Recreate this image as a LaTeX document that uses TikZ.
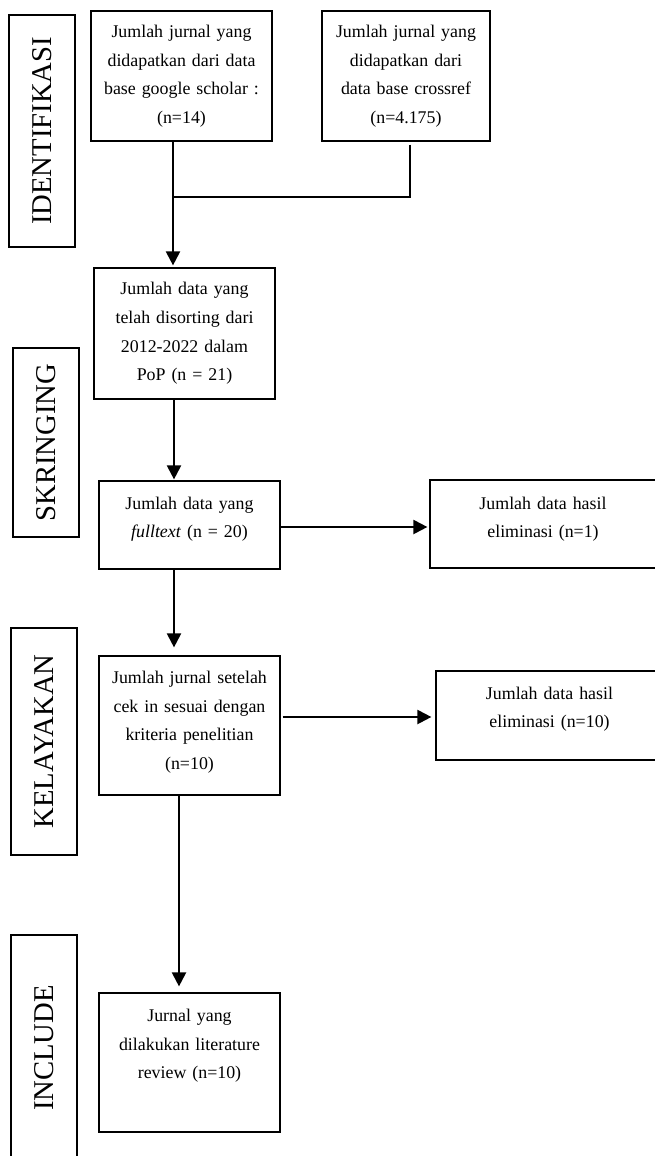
\documentclass[tikz,border=0pt]{standalone}
\usepackage{fontspec}
\setmainfont{Liberation Serif}
\newfontfamily\boxfont{Liberation Serif}
\newfontfamily\labfont{Liberation Serif}
\usetikzlibrary{arrows.meta,calc}
\tikzset{
  box/.style={draw, line width=0.9pt, rectangle, inner sep=0pt, minimum width=135.75pt,
    align=center, text width=118pt, font=\boxfont\fontsize{13.4}{21.4}\selectfont},
  txt/.style={inner sep=0pt, align=center, text width=118pt,
    font=\boxfont\fontsize{13.4}{21.4}\selectfont},
  labbox/.style={draw, line width=0.9pt, rectangle, rotate=90, inner sep=0pt,
    minimum height=49.5pt, font=\labfont\fontsize{21.5}{24}\selectfont},
  ln/.style={line width=1.6pt},
  arr/.style={line width=1.6pt, -{Triangle[length=10.5pt,width=10.5pt]}}
}
\begin{document}
\begin{tikzpicture}[x=0.75pt,y=-0.75pt]
\useasboundingbox (0,0) rectangle (655,1156);
\clip (0,0) rectangle (655,1156);
% stage labels
\node[labbox, minimum width=174pt] (ident) at (42,131) {IDENTIFIKASI};
\node[labbox, minimum width=141.75pt] (skr) at (46,442.5) {SKRINGING};
\node[labbox, minimum width=170.25pt] (kel) at (44,741.5) {KELAYAKAN};
\node[labbox, minimum width=169.5pt] (inc) at (44,1048) {INCLUDE};
% boxes
\node[box, minimum height=97.5pt] (b1) at (181.5,76)
  {Jumlah jurnal yang\\didapatkan dari data\\base google scholar :\\(n=14)};
\node[box, minimum width=126pt, minimum height=97.5pt] (b2) at (406,76)
  {Jumlah jurnal yang\\didapatkan dari\\data base crossref\\(n=4.175)};
\node[box, minimum height=98.25pt] (b3) at (184.5,333.5)
  {Jumlah data yang\\telah disorting dari\\2012-2022 dalam\\PoP (n = 21)};
\node[box, minimum height=66pt] (b4) at (189.5,525) {};
\node[txt] (t4) at (189.5,519) {Jumlah data yang\\\textit{fulltext} (n = 20)};
\node[box, minimum width=172.5pt, minimum height=66pt] (b5) at (545,524) {};
\node[txt] (t5) at (543,519) {Jumlah data hasil\\eliminasi (n=1)};
\node[box, minimum height=104.25pt] (b6) at (189.5,725.5) {};
\node[txt] (t6) at (189.5,722) {Jumlah jurnal setelah\\cek in sesuai dengan\\kriteria penelitian\\(n=10)};
\node[box, minimum width=170.25pt, minimum height=66.75pt] (b7) at (549.5,715.5) {};
\node[txt] (t7) at (549.5,709) {Jumlah data hasil\\eliminasi (n=10)};
\node[box, minimum height=104.25pt] (b8) at (189.5,1062.5) {};
\node[txt] (t8) at (189.5,1046) {Jurnal yang\\dilakukan literature\\review (n=10)};
% connectors
\coordinate (j) at ($(b1.south)+(-8.5,55)$);
\draw[ln] ($(b2.south)+(4,3)$) |- (j);
\draw[arr] ($(b1.south)+(-8.5,0)$) -- ($(b3.north)+(-11.5,-2)$);
\draw[arr] ($(b3.south)+(-10.5,0)$) -- ($(b4.north)+(-15.5,-1)$);
\draw[arr] ($(b4.east)+(-1,2)$) -- ($(b5.west)+(-2,3)$);
\draw[arr] ($(b4.south)+(-15.5,0)$) -- ($(b6.north)+(-15.5,-8)$);
\draw[arr] ($(b6.east)+(2,-8.5)$) -- ($(b7.west)+(-4,1.5)$);
\draw[arr] ($(b6.south)+(-10.5,0)$) -- ($(b8.north)+(-10.5,-6)$);
\end{tikzpicture}
\end{document}
